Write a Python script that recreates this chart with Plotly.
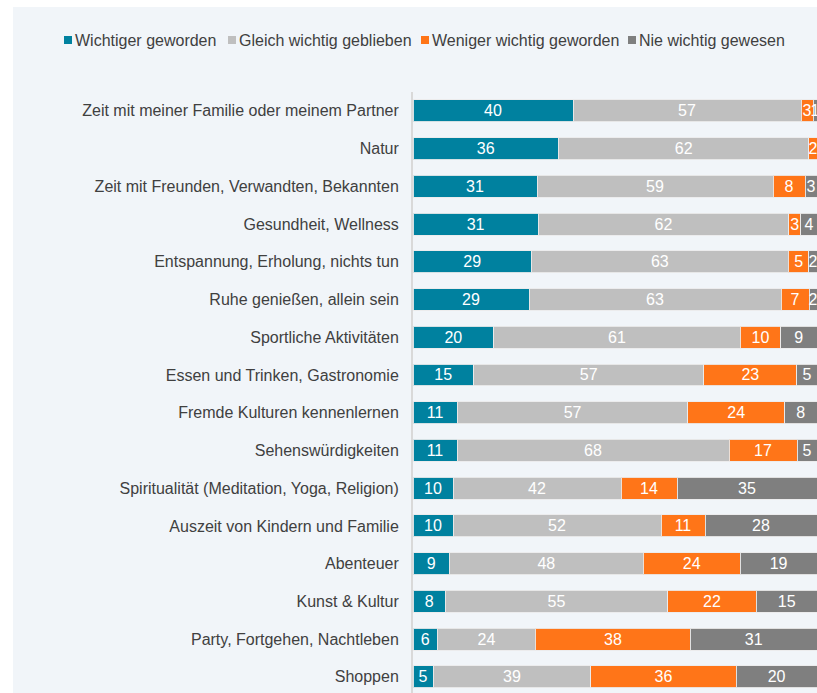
import plotly.graph_objects as go

categories = [
    "Zeit mit meiner Familie oder meinem Partner",
    "Natur",
    "Zeit mit Freunden, Verwandten, Bekannten",
    "Gesundheit, Wellness",
    "Entspannung, Erholung, nichts tun",
    "Ruhe genießen, allein sein",
    "Sportliche Aktivitäten",
    "Essen und Trinken, Gastronomie",
    "Fremde Kulturen kennenlernen",
    "Sehenswürdigkeiten",
    "Spiritualität (Meditation, Yoga, Religion)",
    "Auszeit von Kindern und Familie",
    "Abenteuer",
    "Kunst & Kultur",
    "Party, Fortgehen, Nachtleben",
    "Shoppen",
]
series_names = ["Wichtiger geworden", "Gleich wichtig geblieben", "Weniger wichtig geworden", "Nie wichtig gewesen"]
wichtiger = [40, 36, 31, 31, 29, 29, 20, 15, 11, 11, 10, 10, 9, 8, 6, 5]
gleich = [57, 62, 59, 62, 63, 63, 61, 57, 57, 68, 42, 52, 48, 55, 24, 39]
weniger = [3, 2, 8, 3, 5, 7, 10, 23, 24, 17, 14, 11, 24, 22, 38, 36]
nie = [1, 0, 3, 4, 2, 2, 9, 5, 8, 5, 35, 28, 19, 15, 31, 20]
colors = ["#00819F", "#BFBFBF", "#FF7518", "#7F7F7F"]

FONT = "Liberation Sans, Arial, sans-serif"
W, H = 817, 693
L, T = 413, 92
plot_w = W - L
plot_h = H - T

fig = go.Figure()
for name, vals, col in zip(series_names, [wichtiger, gleich, weniger, nie], colors):
    fig.add_trace(go.Bar(
        y=categories, x=vals, name=name, orientation="h",
        marker=dict(color=col, line=dict(color="rgba(235,235,235,0.9)", width=1)),
        text=[str(v) if v else "" for v in vals],
        textposition="inside", insidetextanchor="middle", textangle=0,
        textfont=dict(color="white", size=16, family=FONT),
        showlegend=False, hoverinfo="skip",
    ))

# manual legend
leg_x = [64, 228, 421, 628]
for name, col, x in zip(series_names, colors, leg_x):
    fig.add_shape(type="rect", xref="paper", yref="paper",
                  x0=(x - L) / plot_w, x1=(x + 8 - L) / plot_w,
                  y0=(H - 44) / plot_h, y1=(H - 36) / plot_h,
                  fillcolor=col, line=dict(width=0))
    fig.add_annotation(text=name, xref="paper", yref="paper",
                       x=(x + 9 - L) / plot_w, y=(H - 40) / plot_h,
                       xanchor="left", yanchor="middle", showarrow=False,
                       font=dict(size=16, color="#404040", family=FONT))

# background panel
fig.add_shape(type="rect", xref="paper", yref="paper", layer="below",
              x0=(13 - L) / plot_w, x1=1.01, y0=-0.05, y1=(H - 7) / plot_h,
              fillcolor="#F1F5F9", line=dict(width=0))

spacing = 37.73
rng_bottom = -0.5 + plot_h / spacing
fig.update_layout(
    width=W, height=H,
    margin=dict(l=L, r=0, t=T, b=0),
    barmode="stack", barnorm="percent", bargap=0.42,
    paper_bgcolor="white", plot_bgcolor="rgba(0,0,0,0)",
    uniformtext=dict(minsize=16, mode="show"),
    font=dict(family=FONT, size=16, color="#404040"),
    xaxis=dict(range=[0, 100], showgrid=False, zeroline=False,
               showticklabels=False, showline=False),
    yaxis=dict(range=[rng_bottom, -0.5], showgrid=False, zeroline=False,
               showline=True, linecolor="#D9D9D9", linewidth=2,
               ticks="", ticklabelstandoff=9,
               tickfont=dict(size=16, color="#404040")),
)
fig.write_html("out.html", config={"displayModeBar": False},
               post_script="document.body.style.margin='0';document.body.style.overflow='hidden';")
